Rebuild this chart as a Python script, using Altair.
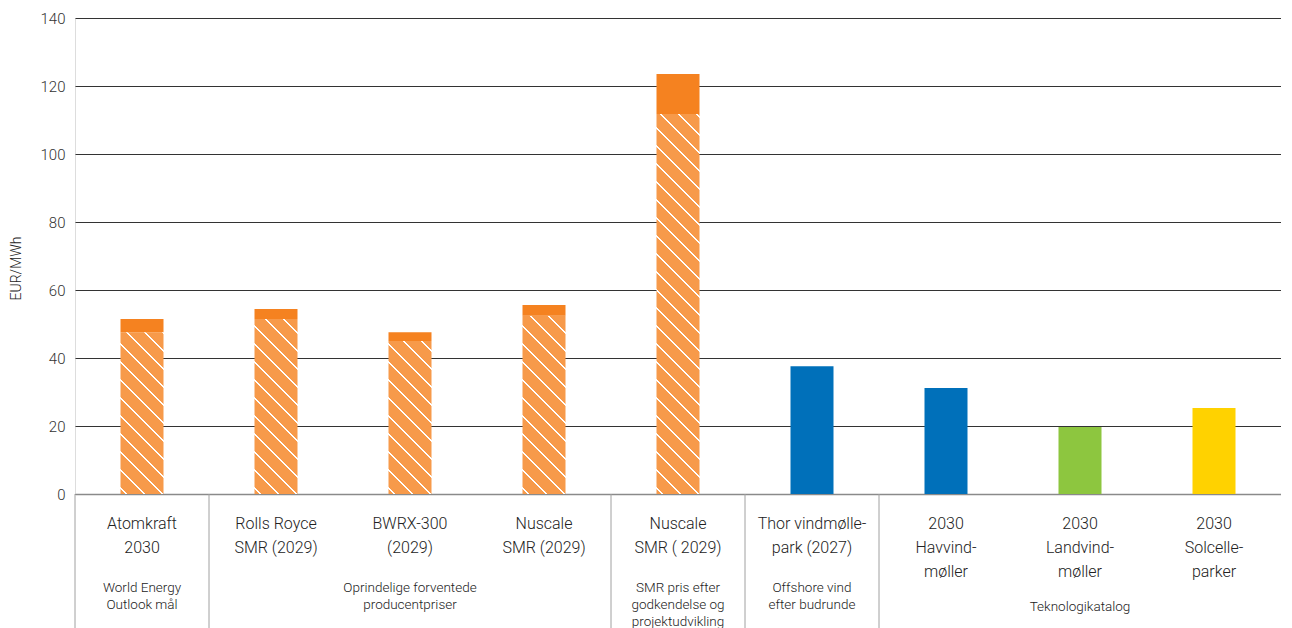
import altair as alt
import pandas as pd

# ---- data ----
categories = [
    "Atomkraft|2030",
    "Rolls Royce|SMR (2029)",
    "BWRX-300|(2029)",
    "Nuscale|SMR (2029)",
    "Nuscale|SMR ( 2029)",
    "Thor vindmølle-|park (2027)",
    "2030|Havvind-|møller",
    "2030|Landvind-|møller",
    "2030|Solcelle-|parker",
]
base_values = [47.6, 51.5, 45.0, 52.4, 111.8, 37.6, 31.2, 19.7, 25.3]
top_values = [51.5, 54.4, 47.6, 55.6, 123.5, None, None, None, None]
bar_kind = ["hatch", "hatch", "hatch", "hatch", "hatch", "blue", "blue", "green", "yellow"]

group_labels = [
    "World Energy\nOutlook mål",
    "Oprindelige forventede\nproducentpriser",
    "SMR pris efter\ngodkendelse og\nprojektudvikling",
    "Offshore vind\nefter budrunde",
    "Teknologikatalog",
]
group_anchor = [0, 2, 4, 5, 7]          # category index the group label is centred under
group_shift = [0, 0, 0, 0, 1]           # extra text lines pushed down
separator_at = [0, 1, 4, 5, 6]          # category whose left edge carries a separator

# ---- layout/style ----
W, H = 1206, 476
BOTTOM = 134
YMAX = 140
BAR_W = 43
ORANGE_LIGHT = "#F79A4A"
ORANGE = "#F58220"
KIND_COLORS = {"blue": "#0070BA", "green": "#8DC63F", "yellow": "#FFD200"}
FONT = "Roboto"

cat_order = categories
df = pd.DataFrame({"cat": categories, "base": base_values, "top": top_values, "kind": bar_kind})

x_enc = alt.X(
    "cat:N",
    sort=cat_order,
    scale=alt.Scale(paddingInner=0, paddingOuter=0),
    axis=alt.Axis(
        title=None,
        labelExpr="split(datum.label, '|')",
        labelAngle=0,
        labelFontSize=16,
        labelFontWeight=300,
        labelColor="#222222",
        labelFont=FONT,
        labelLineHeight=24,
        labelPadding=21,
        ticks=False,
        domainColor="#8a8a8a",
        domainWidth=1.5,
        labelBaseline="top",
    ),
)
y_scale = alt.Scale(domain=[0, YMAX], nice=False, zero=True)
y_axis = alt.Axis(
    title="EUR/MWh",
    values=list(range(0, 141, 20)),
    grid=True,
    gridColor="#333333",
    gridWidth=1,
    domain=False,
    ticks=False,
    labelPadding=10,
    labelFontSize=15,
    labelFontWeight=300,
    labelColor="#333333",
    labelFont=FONT,
    titleFont=FONT,
    titleFontSize=14,
    titleFontWeight=300,
    titleColor="#222222",
    titleX=-59,
    titleY=250,
    titleAngle=-90,
    titleAlign="center",
    titleBaseline="middle",
)


def hatch_gradient(value):
    """White '\\' stripes on light orange, expressed as a bounding-box linear gradient."""
    w = BAR_W
    h = value * H / YMAX
    L = w + h
    k = L / (w * w + h * h)
    period, half = 18.0, 1.1
    stops = [alt.GradientStop(offset=0, color=ORANGE_LIGHT)]
    c = 6.0
    while c - half < L:
        a = max(0.0, (c - half) / L)
        b = min(1.0, (c + half) / L)
        stops += [
            alt.GradientStop(offset=a, color=ORANGE_LIGHT),
            alt.GradientStop(offset=a, color="#ffffff"),
            alt.GradientStop(offset=b, color="#ffffff"),
            alt.GradientStop(offset=b, color=ORANGE_LIGHT),
        ]
        c += period
    stops.append(alt.GradientStop(offset=1, color=ORANGE_LIGHT))
    return alt.LinearGradient(gradient="linear", stops=stops, x1=0, y1=1, x2=k * w, y2=1 - k * h)


layers = []
base = alt.Chart(df)

# axis carrier (invisible bars) so the axes are drawn once
layers.append(
    base.mark_bar(opacity=0, width=BAR_W).encode(x=x_enc, y=alt.Y("base:Q", scale=y_scale, axis=y_axis))
)

# hatched nuclear bars, one layer each (gradient depends on bar height)
for cat, val, kind in zip(categories, base_values, bar_kind):
    if kind != "hatch":
        continue
    layers.append(
        base.transform_filter(alt.datum.cat == cat)
        .mark_bar(width=BAR_W, color=hatch_gradient(val))
        .encode(x=alt.X("cat:N", sort=cat_order), y=alt.Y("base:Q", scale=y_scale), y2=alt.value(H))
    )

# solid top segments
layers.append(
    base.transform_filter("datum.top != null")
    .mark_bar(width=BAR_W, color=ORANGE)
    .encode(x=alt.X("cat:N", sort=cat_order), y=alt.Y("top:Q", scale=y_scale), y2="base:Q")
)

# solid renewable bars
layers.append(
    base.transform_filter("datum.kind != 'hatch'")
    .mark_bar(width=BAR_W)
    .encode(
        x=alt.X("cat:N", sort=cat_order),
        y=alt.Y("base:Q", scale=y_scale),
        y2=alt.value(H),
        color=alt.Color(
            "kind:N",
            scale=alt.Scale(domain=list(KIND_COLORS.keys()), range=list(KIND_COLORS.values())),
            legend=None,
        ),
    )
)

# separators of the label table
sep_df = pd.DataFrame({"cat": [categories[i] for i in separator_at]})
layers.append(
    alt.Chart(sep_df)
    .mark_rule(color="#a0a0a0", strokeWidth=1)
    .encode(x=alt.X("cat:N", sort=cat_order, bandPosition=0), y=alt.value(H), y2=alt.value(H + BOTTOM))
)

# group labels
grp_df = pd.DataFrame(
    {
        "cat": [categories[i] for i in group_anchor],
        "label": group_labels,
        "shift": group_shift,
    }
)
layers.append(
    alt.Chart(grp_df)
    .mark_text(
        fontSize=13.5,
        fontWeight=300,
        font=FONT,
        color="#222222",
        lineBreak="\n",
        lineHeight=17,
        baseline="top",
        align="center",
    )
    .encode(
        x=alt.X("cat:N", sort=cat_order, bandPosition=0.5),
        y=alt.value(H + 87),
        yOffset=alt.YOffset("shift:Q", scale=alt.Scale(domain=[0, 1], range=[0, 19])),
        text="label:N",
    )
)

chart = (
    alt.layer(*layers)
    .properties(
        width=W,
        height=H,
        autosize=alt.AutoSizeParams(type="none"),
        padding={"left": 67, "top": 10, "right": 0, "bottom": BOTTOM},
    )
    .configure_view(stroke=None)
    .configure(background="white")
)

chart.save("out.html", embed_options={"renderer": "svg", "actions": False})
